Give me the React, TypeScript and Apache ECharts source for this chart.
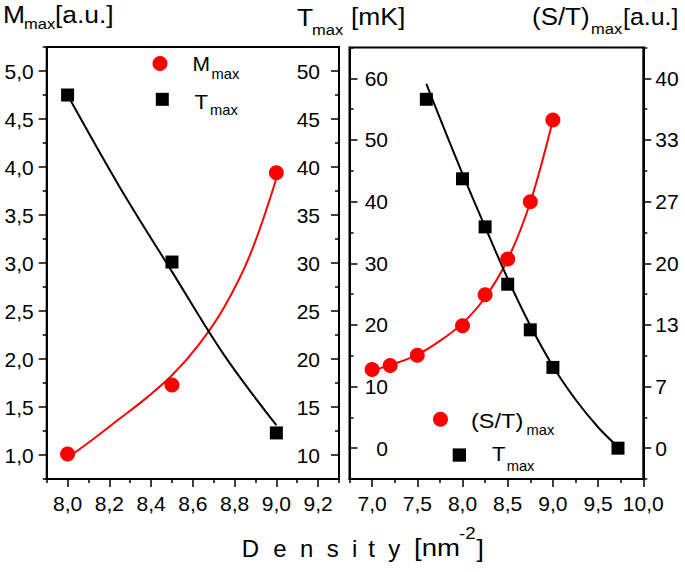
import React, { useEffect, useRef } from 'react';
import * as echarts from 'echarts';

// ---------- data ----------
// Left panel
const leftX = [8.0, 8.5, 9.0];
const leftM = [1.01, 1.73, 3.94];
const leftT = [47.5, 30.1, 12.3];
const leftMFitX = [8.0, 8.125, 8.25, 8.375, 8.5, 8.625, 8.75, 8.875, 9.0];
const leftMFitY = [0.97, 1.17, 1.38, 1.59, 1.83, 2.14, 2.54, 3.09, 3.88];
const leftTFitX = [8.0, 8.25, 8.5, 8.75, 9.0];
const leftTFitY = [47.5, 37.9, 29.1, 20.4, 13.1];

// Right panel
const rightSTX = [7.0, 7.2, 7.5, 8.0, 8.25, 8.5, 8.75, 9.0];
const rightST = [8.5, 8.95, 10.05, 13.25, 16.6, 20.45, 26.65, 35.5];
const rightSTFitX = [7.0, 7.25, 7.5, 7.75, 8.0, 8.25, 8.5, 8.75, 9.0];
const rightSTFitY = [8.4, 9.15, 10.1, 11.6, 13.5, 16.3, 20.4, 26.6, 35.5];
const rightTX = [7.6, 8.0, 8.25, 8.5, 8.75, 9.0, 9.72];
const rightT = [56.6, 43.7, 35.9, 26.6, 19.2, 13.1, 0];
const rightTFitX = [7.6, 7.8, 8.0, 8.25, 8.5, 8.75, 9.0, 9.25, 9.5, 9.72];
const rightTFitY = [59.1, 51.7, 44.5, 35.9, 27.5, 19.9, 13.3, 7.9, 3.4, 0.2];

// Ticks
const leftXMajor = [8.0, 8.2, 8.4, 8.6, 8.8, 9.0, 9.2];
const leftXMinor = [7.9, 8.1, 8.3, 8.5, 8.7, 8.9, 9.1, 9.3];
const mMajor = [1.0, 1.5, 2.0, 2.5, 3.0, 3.5, 4.0, 4.5, 5.0];
const mMinor = [0.75, 1.25, 1.75, 2.25, 2.75, 3.25, 3.75, 4.25, 4.75, 5.25];
const tLeftMajor = [10, 15, 20, 25, 30, 35, 40, 45, 50];
const tLeftMinor = [7.5, 12.5, 17.5, 22.5, 27.5, 32.5, 37.5, 42.5, 47.5, 52.5];
const rightXMajor = [7.0, 7.5, 8.0, 8.5, 9.0, 9.5, 10.0];
const rightXMinor = [6.75, 7.25, 7.75, 8.25, 8.75, 9.25, 9.75];
const tRightMajor = [0, 10, 20, 30, 40, 50, 60];
const tRightMinor = [-5, 5, 15, 25, 35, 45, 55, 65];
const stMajor = [0, 6.6667, 13.3333, 20, 26.6667, 33.3333, 40];
const stMinor = [-3.3333, 3.3333, 10, 16.6667, 23.3333, 30, 36.6667, 43.3333];

// ---------- helpers ----------
const FONT = '"Liberation Sans", Arial, sans-serif';
const RED = '#ff0000';
const BLACK = '#000000';

const pairs = (xs: number[], ys: number[]) => xs.map((x, i) => [x, ys[i]]);
const fmtComma = (v: number) => v.toFixed(1).replace('.', ',');
const fmtInt = (v: number) => String(Math.round(v));

const tickStyle = { color: BLACK, width: 1.5 };
const labelBase = { color: BLACK, fontSize: 21, fontFamily: FONT };

function xAxes(gridIndex: number, min: number, max: number, majors: number[], minors: number[]) {
  return [
    {
      type: 'value', gridIndex, min, max, position: 'bottom',
      splitLine: { show: false },
      axisLine: { show: true, onZero: false, lineStyle: { color: BLACK, width: 2 } },
      axisTick: { show: true, length: 8, customValues: majors, lineStyle: tickStyle },
      axisLabel: { ...labelBase, show: true, margin: 14, customValues: majors, formatter: fmtComma },
    },
    {
      type: 'value', gridIndex, min, max, position: 'bottom',
      splitLine: { show: false },
      axisLine: { show: false, onZero: false },
      axisTick: { show: true, length: 4, customValues: minors, lineStyle: tickStyle },
      axisLabel: { show: false },
    },
  ];
}

function yAxes(
  gridIndex: number, position: string, min: number, max: number,
  majors: number[], minors: number[], inside: boolean, margin: number,
  align: string, fmt: (v: number) => string
) {
  return [
    {
      type: 'value', gridIndex, position, min, max,
      splitLine: { show: false },
      axisLine: { show: true, onZero: false, lineStyle: { color: BLACK, width: 2 } },
      axisTick: { show: true, inside, length: 8, customValues: majors, lineStyle: tickStyle },
      axisLabel: { ...labelBase, show: true, inside, margin, align, customValues: majors, formatter: fmt },
    },
    {
      type: 'value', gridIndex, position, min, max,
      splitLine: { show: false },
      axisLine: { show: false, onZero: false },
      axisTick: { show: true, inside, length: 4, customValues: minors, lineStyle: tickStyle },
      axisLabel: { show: false },
    },
  ];
}

function txt(text: string, x: number, y: number, size: number, sx = 1.1) {
  return {
    type: 'text', x, y, scaleX: sx, z: 10,
    style: {
      text, fontSize: size, fontFamily: FONT, fill: BLACK,
      textAlign: 'left', align: 'left', textVerticalAlign: 'middle', verticalAlign: 'middle',
    },
  };
}

const lineSeries = (name: string, xi: number, yi: number, data: number[][], color: string) => ({
  name, type: 'line', xAxisIndex: xi, yAxisIndex: yi, data, smooth: 0.35,
  showSymbol: false, symbol: 'none', z: 2,
  lineStyle: { color, width: 2 }, itemStyle: { color },
});
const circleSeries = (name: string, xi: number, yi: number, data: number[][]) => ({
  name, type: 'scatter', xAxisIndex: xi, yAxisIndex: yi, data, symbol: 'circle', symbolSize: 15, z: 4,
  itemStyle: { color: RED, opacity: 1 },
});
const squareSeries = (name: string, xi: number, yi: number, data: number[][]) => ({
  name, type: 'scatter', xAxisIndex: xi, yAxisIndex: yi, data, symbol: 'rect', symbolSize: 13, z: 4,
  itemStyle: { color: BLACK, opacity: 1 },
});

const option: any = {
  animation: false,
  backgroundColor: '#ffffff',
  grid: [
    { left: 46.7, top: 47, width: 292.3, height: 432, show: true, borderColor: BLACK, borderWidth: 2, backgroundColor: 'transparent', containLabel: false, outerBoundsMode: 'none' },
    { left: 349.5, top: 47.5, width: 293.8, height: 431.5, show: true, borderColor: BLACK, borderWidth: 2, backgroundColor: 'transparent', containLabel: false, outerBoundsMode: 'none' },
  ],
  xAxis: [
    ...xAxes(0, 7.9, 9.3, leftXMajor, leftXMinor),
    ...xAxes(1, 6.75, 10.0, rightXMajor, rightXMinor),
  ],
  yAxis: [
    ...yAxes(0, 'left', 0.75, 5.25, mMajor, mMinor, false, 13, 'right', fmtComma),
    ...yAxes(0, 'right', 7.5, 52.5, tLeftMajor, tLeftMinor, true, 19, 'right', fmtInt),
    ...yAxes(1, 'left', -5, 65, tRightMajor, tRightMinor, true, 38.5, 'right', fmtInt),
    ...yAxes(1, 'right', -3.3333, 43.3333, stMajor, stMinor, false, 12, 'left', fmtInt),
  ],
  series: [
    lineSeries('M_max fit', 0, 0, pairs(leftMFitX, leftMFitY), RED),
    lineSeries('T_max fit', 0, 2, pairs(leftTFitX, leftTFitY), BLACK),
    circleSeries('M_max', 0, 0, pairs(leftX, leftM)),
    squareSeries('T_max', 0, 2, pairs(leftX, leftT)),
    lineSeries('(S/T)_max fit', 2, 6, pairs(rightSTFitX, rightSTFitY), RED),
    lineSeries('T_max fit (right)', 2, 4, pairs(rightTFitX, rightTFitY), BLACK),
    circleSeries('(S/T)_max', 2, 6, pairs(rightSTX, rightST)),
    squareSeries('T_max (right)', 2, 4, pairs(rightTX, rightT)),
  ],
  graphic: [
    // axis titles
    txt('M', 3, 14.5, 24),
    txt('max', 24, 23.4, 15),
    txt('[a.u.]', 55, 14.5, 24),
    txt('T', 297, 17, 24),
    txt('max', 312, 29.7, 15),
    txt('[mK]', 351, 16.5, 24),
    txt('(S/T)', 532, 16.5, 24, 1.08),
    txt('max', 591, 28.7, 15),
    txt('[a.u.]', 623, 16.5, 24, 1.04),
    // x title (letter spaced)
    txt('D', 241.7, 548, 24, 1),
    txt('e', 273.3, 548, 24, 1),
    txt('n', 300, 548, 24, 1),
    txt('s', 326.7, 548, 24, 1),
    txt('i', 352, 548, 24, 1),
    txt('t', 368.3, 548, 24, 1),
    txt('y', 388.3, 548, 24, 1),
    txt('[nm', 414, 548, 24, 1.15),
    txt('-2', 459, 533, 17, 1.1),
    txt(']', 476.5, 548, 24, 1.1),
    // left legend
    { type: 'circle', shape: { cx: 160, cy: 63.5, r: 7.5 }, style: { fill: RED }, z: 10 },
    txt('M', 192.5, 63.7, 21, 1.0),
    txt('max', 211.5, 73.8, 14, 1.05),
    { type: 'rect', shape: { x: 155.8, y: 92.8, width: 13, height: 13 }, style: { fill: BLACK }, z: 10 },
    txt('T', 194.5, 102, 21, 1.05),
    txt('max', 210, 110.5, 14, 1.05),
    // right legend
    { type: 'circle', shape: { cx: 440.5, cy: 419.3, r: 7.5 }, style: { fill: RED }, z: 10 },
    txt('(S/T)', 471, 421, 21, 1.12),
    txt('max', 526.5, 429.8, 14, 1.05),
    { type: 'rect', shape: { x: 452.7, y: 448.4, width: 13.3, height: 13.3 }, style: { fill: BLACK }, z: 10 },
    txt('T', 492, 454, 21, 1.05),
    txt('max', 506.7, 466.3, 14, 1.05),
  ],
};

export default function App() {
  const ref = useRef<HTMLDivElement>(null);
  useEffect(() => {
    if (!ref.current) return;
    const chart = echarts.init(ref.current, null, { renderer: 'svg' });
    chart.setOption(option);
    return () => chart.dispose();
  }, []);
  return (
    <div
      ref={ref}
      style={{ position: 'fixed', left: 0, top: 0, width: 685, height: 572, background: '#fff' }}
    />
  );
}
